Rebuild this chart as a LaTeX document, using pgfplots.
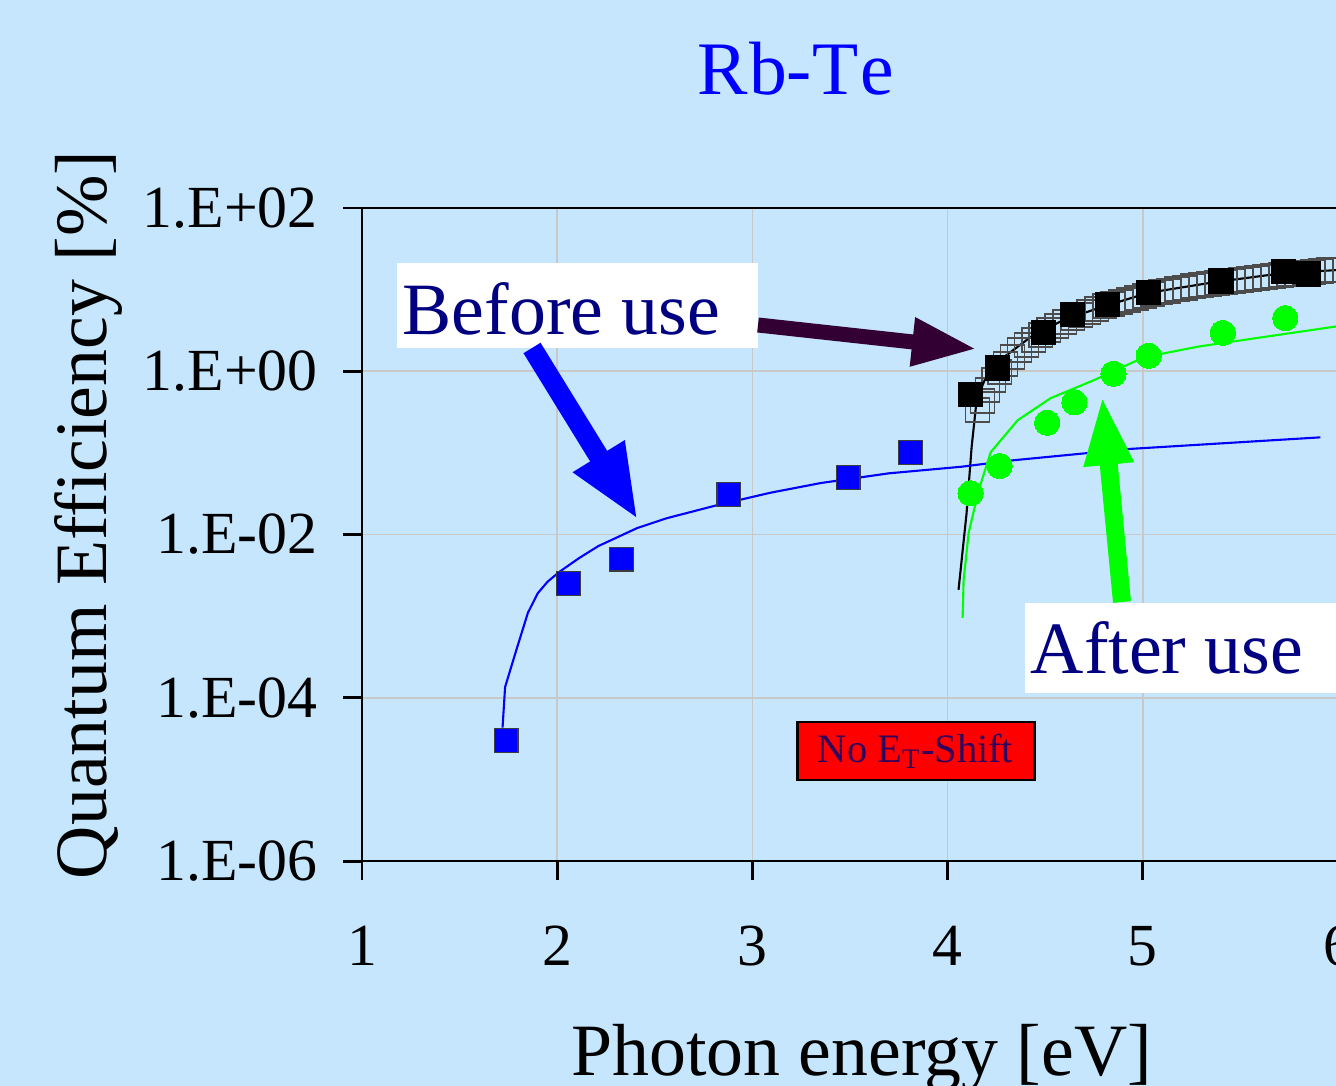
\documentclass[border=0pt]{standalone}
\usepackage{fontspec}
\setmainfont{Liberation Serif}
\usepackage{pgfplots}
\pgfplotsset{compat=1.18}
\usetikzlibrary{arrows.meta}
\definecolor{bg}{RGB}{197,230,252}
\definecolor{navy}{RGB}{0,0,128}
\definecolor{darkpurple}{RGB}{51,0,51}
\definecolor{gridgray}{RGB}{200,200,200}
\definecolor{boxtext}{RGB}{50,0,90}
\definecolor{pureblue}{RGB}{0,0,255}
\definecolor{puregreen}{RGB}{0,255,0}
\definecolor{edgegray}{RGB}{60,60,60}

\begin{document}
\begin{tikzpicture}
\fill[bg] (0,0) rectangle (133.6mm,-108.6mm);
\begin{axis}[
  at={(36.2mm,-86.1mm)}, anchor=south west,
  scale only axis, width=97.6mm, height=65.3mm,
  xmin=1, xmax=6, ymode=log, ymin=1e-6, ymax=100,
  xtick={1,2,3,4,5,6}, xticklabels={1,2,3,4,5,6},
  ytick={1e-6,1e-4,1e-2,1,100},
  yticklabels={1.E-06,1.E-04,1.E-02,1.E+00,1.E+02},
  yminorticks=false, xminorticks=false,
  tick pos=left, tick align=outside, major tick length=1.9mm,
  tick style={line width=0.85pt, black},
  grid=major, major grid style={gridgray, line width=0.5pt},
  axis line style={line width=0.45pt, black},
  tick label style={font=\fontsize{17}{20}\selectfont},
  yticklabel style={xshift=-1.3mm},
  xticklabel style={yshift=-3.4mm},
  xlabel={Photon energy [eV]},
  ylabel={Quantum Efficiency [\%]},
  label style={font=\fontsize{21}{25}\selectfont},
  xlabel style={at={(axis description cs:0.512,-0.328)}, anchor=base},
  ylabel style={at={(axis description cs:-0.2615,0.53)}, anchor=base},
  title={R\kern0.5pt b-T\kern0.5pt e},
  title style={at={(axis description cs:0.444,1.142)}, anchor=base, font=\fontsize{21.5}{25}\selectfont, text=pureblue},
]
% open squares (after use, dense data)
\addplot[only marks, mark=square, mark size=3.4pt, mark options={draw=black!70, line width=0.45pt}] coordinates {
(4.154,0.335) (4.179,0.43) (4.205,0.59) (4.236,0.78) (4.267,0.98) (4.297,1.22)
(4.333,1.49) (4.369,1.82) (4.405,2.10) (4.441,2.41) (4.477,2.78) (4.518,3.20)
(4.559,3.58) (4.600,4.01) (4.641,4.49) (4.682,4.89) (4.723,5.31) (4.764,5.78)
(4.805,6.29) (4.846,6.66) (4.887,7.05) (4.928,7.46) (4.969,7.89) (5.010,8.35)
(5.051,8.84) (5.092,9.35) (5.133,9.62) (5.174,10.2) (5.215,10.5) (5.256,11.1)
(5.297,11.4) (5.338,11.7) (5.379,12.1) (5.421,12.4) (5.462,12.7) (5.503,13.1)
(5.544,13.5) (5.585,13.9) (5.626,14.3) (5.667,14.7) (5.708,15.1) (5.749,15.5)
(5.790,15.5) (5.831,16.0) (5.872,16.4) (5.913,16.9) (5.954,17.4) (5.995,17.4)
};
% black fit line
\addplot[black, line width=0.6pt, no marks] coordinates {
(4.056,0.0021) (4.097,0.018) (4.123,0.117) (4.149,0.45) (4.190,0.78)
(4.287,1.48) (4.426,2.63) (4.595,4.27) (4.769,5.89) (5.026,9.12)
(5.364,12.3) (5.708,15.8) (6.0,17.4)
};
% black filled squares
\addplot[only marks, mark=square*, mark size=3.4pt, mark options={fill=black, draw=black}] coordinates {
(4.118,0.52) (4.256,1.10) (4.49,3.0) (4.64,5.0) (4.82,6.6) (5.03,9.3)
(5.40,12.7) (5.72,16.6) (5.85,15.5)
};
% blue fit line
\addplot[pureblue, line width=0.6pt, no marks] coordinates {
(1.72,4.3e-5) (1.733,1.35e-4) (1.79,3.8e-4) (1.85,1.1e-3) (1.90,1.9e-3)
(1.95,2.63e-3) (2.01,3.47e-3) (2.11,5.1e-3) (2.21,7.2e-3) (2.41,0.012)
(2.56,0.0158) (2.82,0.0229) (3.09,0.0324) (3.35,0.0427) (3.70,0.0562)
(4.07,0.0676) (4.34,0.0813) (4.94,0.112) (5.91,0.155)
};
% blue squares
\addplot[only marks, mark=square*, mark size=3.4pt, mark options={fill=pureblue, draw=edgegray, line width=0.3pt}] coordinates {
(1.738,3.0e-5) (2.056,2.5e-3) (2.33,5.0e-3) (2.88,0.031) (3.49,0.050) (3.81,0.10)
};
% green fit line
\addplot[puregreen, line width=0.6pt, no marks] coordinates {
(4.077,9.5e-4) (4.082,2.75e-3) (4.108,0.0105) (4.159,0.0347) (4.221,0.102)
(4.359,0.251) (4.528,0.468) (4.749,0.776) (5.005,1.48) (5.282,2.0)
(5.621,2.63) (5.995,3.55)
};
% green circles
\addplot[only marks, mark=*, mark size=3.6pt, color=puregreen, mark options={fill=puregreen, draw=puregreen, line width=0pt}] coordinates {
(4.118,0.032) (4.267,0.069) (4.51,0.234) (4.65,0.417) (4.85,0.93)
(5.03,1.55) (5.41,2.95) (5.73,4.47)
};
% thick left and bottom spines
\draw[black, line width=0.85pt] (axis cs:1,100) -- (axis cs:1,1e-6) -- (axis cs:6,1e-6);
\end{axis}
\begin{scope}[x=0.1mm,y=-0.1mm]
 \fill[white] (397,263) rectangle (758,348);
 \node[anchor=base west, inner sep=0, text=navy, font=\fontsize{21}{25}\selectfont] at (402,335) {Before use};
 \fill[white] (1025,603) rectangle (1345,693);
 \node[anchor=base west, inner sep=0, text=navy, font=\fontsize{21}{25}\selectfont] at (1030,673) {After use};
 \draw[line width=0.85pt, fill=red] (797,722) rectangle (1034,780);
 \node[text=boxtext, font=\fontsize{11.5}{14}\selectfont] at (915.5,751) {No E\textsubscript{T}-Shift};
 \draw[darkpurple, line width=1.5mm, -{Triangle[length=6.5mm,width=4.5mm]}] (758,325) -- (977,349);
 \draw[pureblue, line width=2mm, -{Triangle[length=7.5mm,width=5.5mm]}] (532,348) -- (638,520);
 \draw[puregreen, line width=1.8mm, -{Triangle[length=7mm,width=4.5mm]}] (1122,602) -- (1102,395);
\end{scope}
\pgfresetboundingbox
\useasboundingbox (0,0) rectangle (133.6mm,-108.6mm);
\end{tikzpicture}
\end{document}
